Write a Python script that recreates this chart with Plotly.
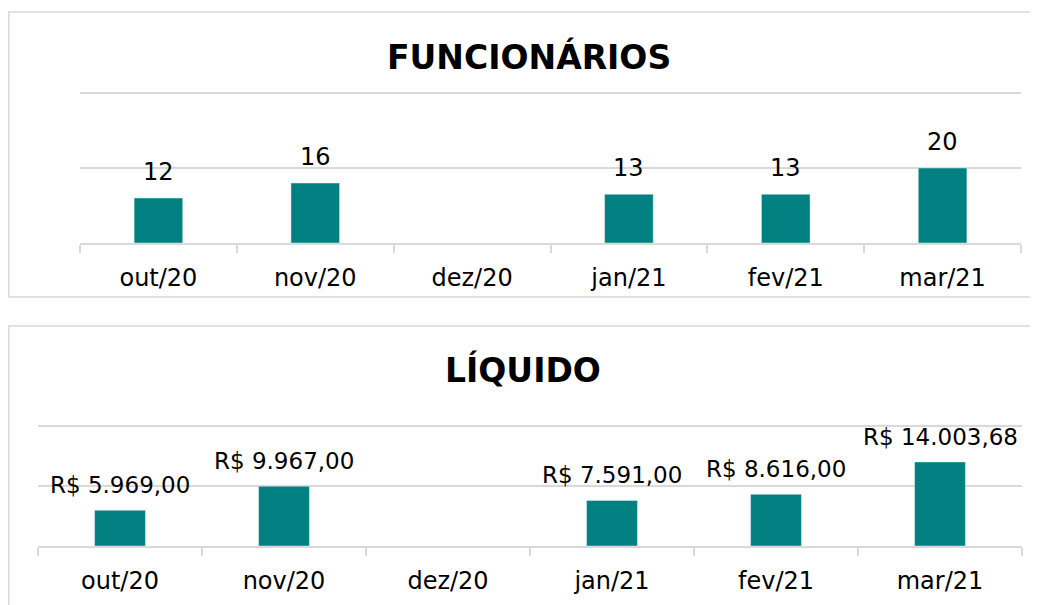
import plotly.graph_objects as go

months = ["out/20", "nov/20", "dez/20", "jan/21", "fev/21", "mar/21"]
funcionarios = [12, 16, None, 13, 13, 20]
liquido = [5969.00, 9967.00, None, 7591.00, 8616.00, 14003.68]
liquido_labels = ["R$ 5.969,00", "R$ 9.967,00", "", "R$ 7.591,00", "R$ 8.616,00", "R$ 14.003,68"]
titles = ["FUNCIONÁRIOS", "LÍQUIDO"]

# page body adds an 8px margin; lay out in page pixels and convert
OFF = 8
W, H = 1030, 597
TEAL = "#008080"
GRID = "#d9d9d9"
FONT = "DejaVu Sans"

def px_x(p):
    return (p - OFF) / W

def px_y(p):
    return 1 - (p - OFF) / H

fig = go.Figure()
fig.add_trace(go.Bar(x=months, y=funcionarios, marker_color=TEAL, width=0.31,
                     xaxis="x", yaxis="y", hoverinfo="skip"))
fig.add_trace(go.Bar(x=months, y=liquido, marker_color=TEAL, width=0.31,
                     xaxis="x2", yaxis="y2", hoverinfo="skip"))

annotations = []
for m, v in zip(months, funcionarios):
    if v is None:
        continue
    annotations.append(dict(x=m, y=v, xref="x", yref="y", text=str(v), showarrow=False,
                            yanchor="bottom", yshift=10, font=dict(size=24, color="#000", family=FONT)))
for m, v, t in zip(months, liquido, liquido_labels):
    if v is None:
        continue
    annotations.append(dict(x=m, y=v, xref="x2", yref="y2", text=t, showarrow=False,
                            yanchor="bottom", yshift=10, font=dict(size=23, color="#000", family=FONT)))
annotations.append(dict(x=px_x(529), y=px_y(57), xref="paper", yref="paper", text="<b>%s</b>" % titles[0],
                        showarrow=False, xanchor="center", yanchor="middle",
                        font=dict(size=33, color="#000", family=FONT)))
annotations.append(dict(x=px_x(523), y=px_y(370), xref="paper", yref="paper", text="<b>%s</b>" % titles[1],
                        showarrow=False, xanchor="center", yanchor="middle",
                        font=dict(size=33, color="#000", family=FONT)))

def hline(y):
    return dict(type="line", xref="paper", yref="paper", x0=px_x(8), x1=1.0, y0=px_y(y), y1=px_y(y),
                line=dict(color=GRID, width=1.5), layer="below")

def vline(x, y0, y1):
    return dict(type="line", xref="paper", yref="paper", x0=px_x(x), x1=px_x(x), y0=px_y(y0), y1=px_y(y1),
                line=dict(color=GRID, width=1.5), layer="below")

shapes = [
    hline(12), hline(297), vline(8.8, 12, 297),
    hline(326), vline(8.8, 326, 605),
]

xcommon = dict(type="category", showgrid=False, showline=True, linecolor=GRID, linewidth=1.5,
               ticks="outside", tickson="boundaries", ticklen=8, tickcolor=GRID, tickwidth=1.5,
               tickfont=dict(size=24, color="#000", family=FONT), ticklabelstandoff=12,
               fixedrange=True)
ycommon = dict(showgrid=True, gridcolor=GRID, gridwidth=1.5, showticklabels=False,
               zeroline=False, showline=False, ticks="", fixedrange=True)

# top: 0 at y=243, 20 per 75px ; bottom: 0 at y=546, 10000 per 60px
top_max = 41
bot_max = 20500

fig.update_layout(
    width=W, height=H,
    margin=dict(l=0, r=0, t=0, b=0),
    paper_bgcolor="white", plot_bgcolor="white",
    showlegend=False,
    font=dict(family=FONT, color="#000"),
    xaxis=dict(domain=[px_x(80), px_x(1021)], anchor="y", **xcommon),
    yaxis=dict(domain=[px_y(243), px_y(243 - top_max * 75 / 20)], anchor="x",
               range=[0, top_max], tickvals=[0, 20, 40], **ycommon),
    xaxis2=dict(domain=[px_x(38), px_x(1022)], anchor="y2", **xcommon),
    yaxis2=dict(domain=[px_y(546), px_y(546 - bot_max * 60 / 10000)], anchor="x2",
                range=[0, bot_max], tickvals=[0, 10000, 20000], **ycommon),
    annotations=annotations,
    shapes=shapes,
)

fig.write_html("out.html")
